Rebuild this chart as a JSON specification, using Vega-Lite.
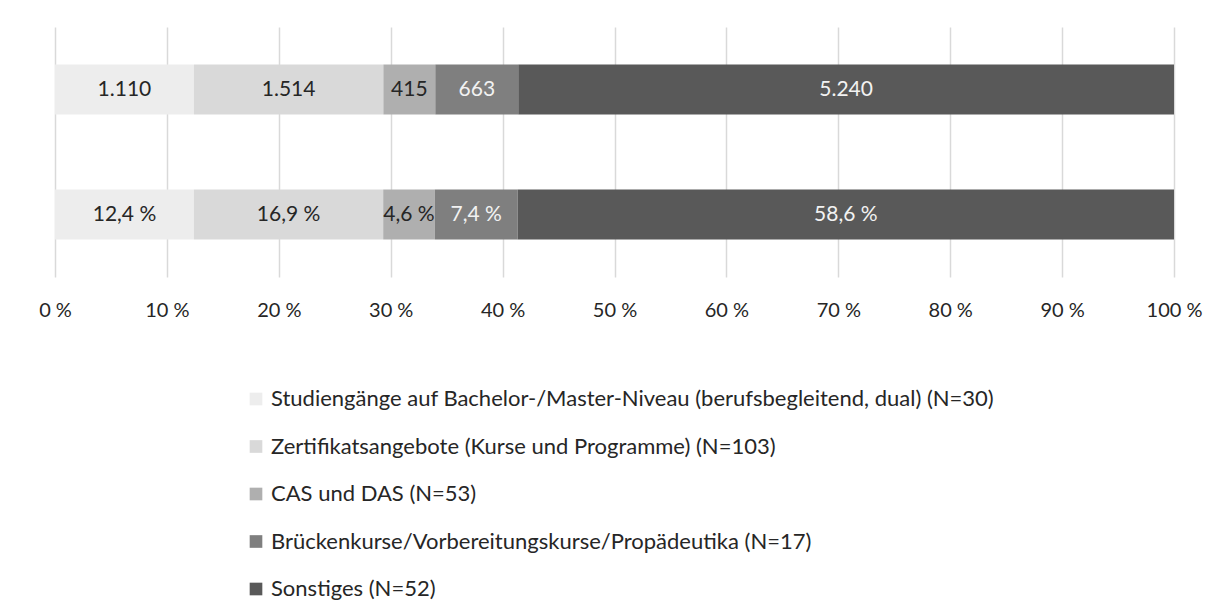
{
  "$schema": "https://vega.github.io/schema/vega-lite/v6.json",
  "width": 1119,
  "height": 250,
  "autosize": {"type": "none"},
  "padding": {"left": 55, "top": 27, "right": 42, "bottom": 331},
  "background": "white",
  "config": {"view": {"stroke": null}, "font": "Lato"},
  "data": {
    "values": [
      {"bar": "Anzahl", "ord": 1, "kategorie": "Studiengänge auf Bachelor-/Master-Niveau (berufsbegleitend, dual) (N=30)", "wert": 1110, "label": "1.110"},
      {"bar": "Anzahl", "ord": 2, "kategorie": "Zertifikatsangebote (Kurse und Programme) (N=103)", "wert": 1514, "label": "1.514"},
      {"bar": "Anzahl", "ord": 3, "kategorie": "CAS und DAS (N=53)", "wert": 415, "label": "415"},
      {"bar": "Anzahl", "ord": 4, "kategorie": "Brückenkurse/Vorbereitungskurse/Propädeutika (N=17)", "wert": 663, "label": "663"},
      {"bar": "Anzahl", "ord": 5, "kategorie": "Sonstiges (N=52)", "wert": 5240, "label": "5.240"},
      {"bar": "Prozent", "ord": 1, "kategorie": "Studiengänge auf Bachelor-/Master-Niveau (berufsbegleitend, dual) (N=30)", "wert": 12.4, "label": "12,4 %"},
      {"bar": "Prozent", "ord": 2, "kategorie": "Zertifikatsangebote (Kurse und Programme) (N=103)", "wert": 16.9, "label": "16,9 %"},
      {"bar": "Prozent", "ord": 3, "kategorie": "CAS und DAS (N=53)", "wert": 4.6, "label": "4,6 %"},
      {"bar": "Prozent", "ord": 4, "kategorie": "Brückenkurse/Vorbereitungskurse/Propädeutika (N=17)", "wert": 7.4, "label": "7,4 %"},
      {"bar": "Prozent", "ord": 5, "kategorie": "Sonstiges (N=52)", "wert": 58.6, "label": "58,6 %"}
    ]
  },
  "transform": [
    {"stack": "wert", "groupby": ["bar"], "offset": "normalize", "sort": [{"field": "ord", "order": "ascending"}], "as": ["x0", "x1"]},
    {"calculate": "(datum.x0 + datum.x1) / 2", "as": "xmid"}
  ],
  "encoding": {
    "y": {"field": "bar", "type": "nominal", "sort": ["Anzahl", "Prozent"], "axis": null, "scale": {"paddingInner": 0.6, "paddingOuter": 0.3}}
  },
  "layer": [
    {
      "mark": {"type": "bar"},
      "encoding": {
        "x": {
          "field": "x0", "type": "quantitative",
          "scale": {"domain": [0, 1], "nice": false},
          "axis": {
            "title": null, "values": [0, 0.1, 0.2, 0.3, 0.4, 0.5, 0.6, 0.7, 0.8, 0.9, 1],
            "labelExpr": "round(datum.value * 100) + ' %'",
            "grid": true, "gridColor": "#d9d9d9", "gridWidth": 1.5,
            "domain": false, "ticks": false, "labelPadding": 23,
            "labelFontSize": 20, "labelColor": "#262626", "labelFont": "Lato", "labelFlush": false
          }
        },
        "x2": {"field": "x1"},
        "color": {
          "field": "kategorie", "type": "nominal",
          "scale": {
            "domain": [
              "Studiengänge auf Bachelor-/Master-Niveau (berufsbegleitend, dual) (N=30)",
              "Zertifikatsangebote (Kurse und Programme) (N=103)",
              "CAS und DAS (N=53)",
              "Brückenkurse/Vorbereitungskurse/Propädeutika (N=17)",
              "Sonstiges (N=52)"
            ],
            "range": ["#ededed", "#d9d9d9", "#afafaf", "#7f7f7f", "#595959"]
          },
          "legend": {
            "title": null, "orient": "none", "legendX": 190, "legendY": 361,
            "direction": "vertical", "symbolType": "square", "symbolSize": 160,
            "symbolStrokeWidth": 0, "labelFontSize": 22, "labelFont": "Lato",
            "labelColor": "#262626", "rowPadding": 25.5, "labelOffset": 4, "labelLimit": 1000
          }
        }
      }
    },
    {
      "mark": {"type": "text", "fontSize": 21, "font": "Lato"},
      "encoding": {
        "x": {"field": "xmid", "type": "quantitative"},
        "text": {"field": "label"},
        "color": {"condition": {"test": "datum.ord >= 4", "value": "#f2f2f2"}, "value": "#262626"}
      }
    }
  ]
}
